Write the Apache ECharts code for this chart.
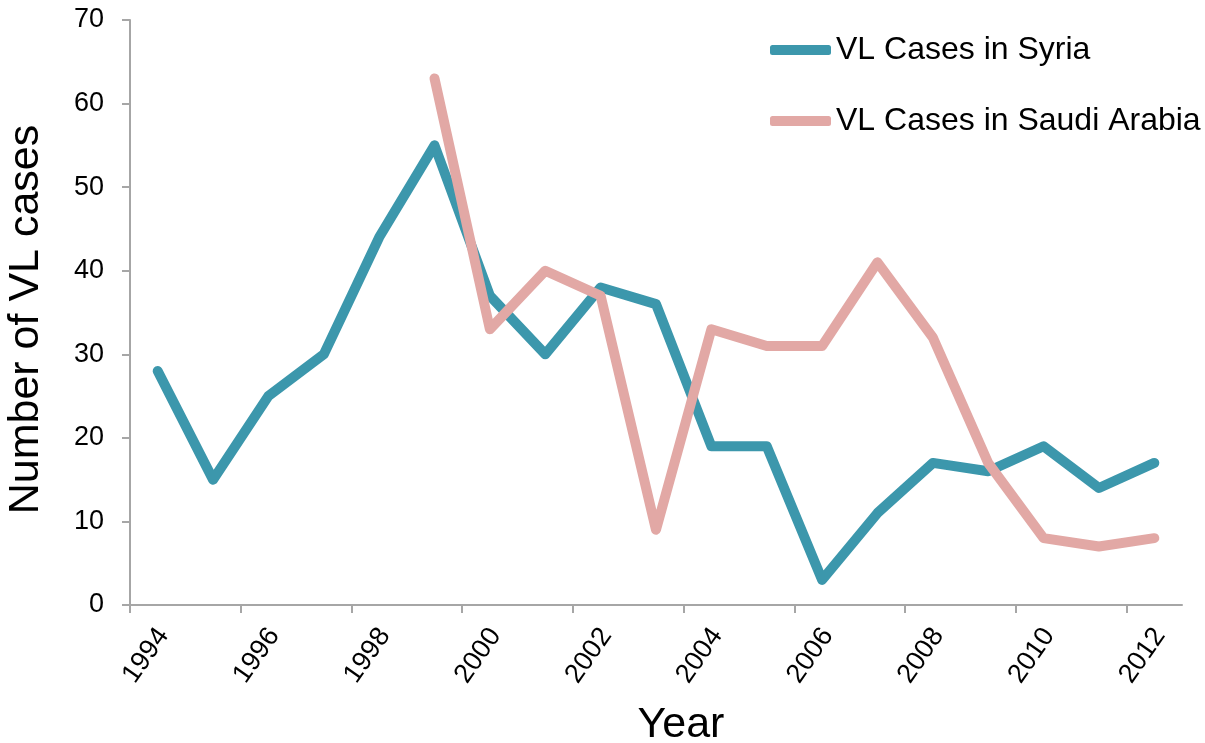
<!DOCTYPE html>
<html>
<head>
<meta charset="utf-8">
<script src="https://cdn.jsdelivr.net/npm/echarts@6/dist/echarts.min.js"></script>
<style>
html,body{margin:0;padding:0;background:#fff;}
#chart{width:1205px;height:743px;}
</style>
</head>
<body>
<div id="chart"></div>
<script>
const years = [1994,1995,1996,1997,1998,1999,2000,2001,2002,2003,2004,2005,2006,2007,2008,2009,2010,2011,2012];
const syria = [28,15,25,30,44,55,37,30,38,36,19,19,3,11,17,16,19,14,17];
const saudi = [null,null,null,null,null,63,33,40,37,9,33,31,31,41,32,17,8,7,8];
const tickYears = [1994,1996,1998,2000,2002,2004,2006,2008,2010,2012];
const yTicks = [0,10,20,30,40,50,60,70];

const font = '"Liberation Sans", Arial, Helvetica, sans-serif';
const axisGray = '#A6A6A6';

function pts(vals){
  const out = [];
  years.forEach((y,i)=>{ if(vals[i]!==null) out.push([y+0.5, vals[i]]); });
  return out;
}

const chart = echarts.init(document.getElementById('chart'), null, {renderer:'canvas'});
chart.setOption({
  animation:false,
  backgroundColor:'#fff',
  grid:{left:130, right:23, top:20, bottom:138, containLabel:false, outerBoundsMode:'none'},
  legend:{
    orient:'vertical',
    left:765, top:29,
    itemWidth:61, itemHeight:10, itemGap:39,
    icon:'roundRect',
    textStyle:{fontFamily:font, fontSize:32, color:'#000'},
    data:['VL Cases in Syria','VL Cases in Saudi Arabia']
  },
  xAxis:{
    type:'value', min:1994, max:2013,
    name:'Year', nameLocation:'middle', nameGap:99,
    nameTextStyle:{fontFamily:font, fontSize:43, color:'#000', padding:[0,0,0,50]},
    axisLine:{lineStyle:{color:axisGray, width:2}},
    axisTick:{show:true, length:8, lineStyle:{color:axisGray, width:2}, customValues:tickYears},
    axisLabel:{
      customValues: tickYears.map(v=>v+0.6),
      formatter: v => String(Math.floor(v)),
      rotate:55, margin:26,
      fontFamily:font, fontSize:27, color:'#000'
    },
    splitLine:{show:false}
  },
  yAxis:{
    type:'value', min:0, max:70, interval:10,
    name:'Number of VL cases', nameLocation:'middle', nameGap:82, nameRotate:90,
    nameTextStyle:{fontFamily:font, fontSize:43, color:'#000', padding:[0,14,0,0]},
    axisLine:{show:true, lineStyle:{color:axisGray, width:2}},
    axisTick:{show:true, length:8, lineStyle:{color:axisGray, width:2}},
    axisLabel:{margin:26, fontFamily:font, fontSize:27, color:'#000', formatter: v => yTicks.includes(v) ? String(v) : ''},
    splitLine:{show:false}
  },
  series:[
    {
      name:'VL Cases in Syria', type:'line', data:pts(syria),
      showSymbol:false, symbol:'none',
      lineStyle:{color:'#3C97AC', width:10, cap:'round', join:'round'},
      itemStyle:{color:'#3C97AC'}
    },
    {
      name:'VL Cases in Saudi Arabia', type:'line', data:pts(saudi),
      showSymbol:false, symbol:'none',
      lineStyle:{color:'#E2A8A5', width:10, cap:'round', join:'round'},
      itemStyle:{color:'#E2A8A5'}
    }
  ]
});
</script>
</body>
</html>
